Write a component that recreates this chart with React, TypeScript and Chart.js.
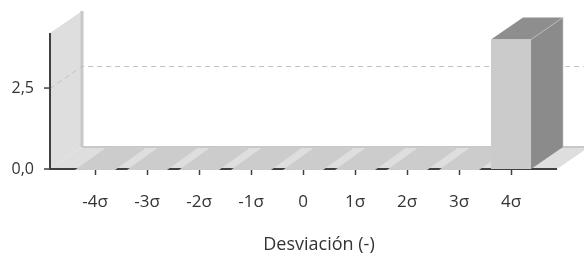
import React, { useEffect, useRef } from "react";
import { Chart, registerables } from "chart.js";

Chart.register(...registerables);

const categories = ["-4σ", "-3σ", "-2σ", "-1σ", "0", "1σ", "2σ", "3σ", "4σ"];
const values = [0, 0, 0, 0, 0, 0, 0, 0, 4];
const yTickValues = [0, 2.5];
const yMax = 4.2;
const xTitle = "Desviación (-)";

const FONT = "'Open Sans', 'Noto Sans', sans-serif";
const TEXT = "#333333";
const DX = 32;
const DY = -22;
const SIDE_PAD = 19;

const threeD = {
  id: "threeD",
  beforeDatasetsDraw(chart: any) {
    const { ctx, chartArea: ca } = chart;
    const xs = chart.scales.x;
    const ys = chart.scales.y;
    const base = ys.getPixelForValue(0);
    const top = ys.getPixelForValue(yMax);
    const L = ca.left - SIDE_PAD;
    const R = ca.right + SIDE_PAD + 1;
    ctx.save();
    // side wall
    ctx.fillStyle = "#dedede";
    ctx.beginPath();
    ctx.moveTo(L, top);
    ctx.lineTo(L + DX, top + DY);
    ctx.lineTo(L + DX, base + DY);
    ctx.lineTo(L, base);
    ctx.closePath();
    ctx.fill();
    // floor
    ctx.beginPath();
    ctx.moveTo(L, base);
    ctx.lineTo(R, base);
    ctx.lineTo(R + DX, base + DY);
    ctx.lineTo(L + DX, base + DY);
    ctx.closePath();
    ctx.fill();
    // wall edges
    ctx.strokeStyle = "#c8c8c8";
    ctx.lineWidth = 3;
    ctx.beginPath();
    ctx.moveTo(L + DX, top + DY);
    ctx.lineTo(L + DX, base + DY);
    ctx.stroke();
    ctx.lineWidth = 2;
    ctx.beginPath();
    ctx.moveTo(L + DX, base + DY);
    ctx.lineTo(R + DX + 40, base + DY);
    ctx.stroke();
    // dashed gridlines
    ctx.strokeStyle = "#c0c0c0";
    ctx.lineWidth = 1;
    ctx.setLineDash([5, 4]);
    ys.ticks.forEach((t: any) => {
      if (t.value === 0) return;
      const py = Math.round(ys.getPixelForValue(t.value)) + 0.5;
      ctx.beginPath();
      ctx.moveTo(L, py);
      ctx.lineTo(L + DX, py + DY);
      ctx.lineTo(chart.width, py + DY);
      ctx.stroke();
    });
    ctx.setLineDash([]);
    // axes
    ctx.strokeStyle = "#404040";
    ctx.lineWidth = 2;
    ctx.beginPath();
    ctx.moveTo(L, top);
    ctx.lineTo(L, base);
    ctx.lineTo(R, base);
    ctx.stroke();
    ctx.lineWidth = 1.5;
    ys.ticks.forEach((t: any) => {
      const py = ys.getPixelForValue(t.value);
      ctx.beginPath();
      ctx.moveTo(L - 6, py);
      ctx.lineTo(L, py);
      ctx.stroke();
    });
    xs.ticks.forEach((_t: any, i: number) => {
      const px = Math.round(xs.getPixelForValue(i)) + 0.5;
      ctx.beginPath();
      ctx.moveTo(px, base);
      ctx.lineTo(px, base + 6);
      ctx.stroke();
    });
    // bar top & side faces
    const meta = chart.getDatasetMeta(0);
    meta.data.forEach((bar: any, i: number) => {
      const x0 = bar.x - bar.width / 2;
      const x1 = bar.x + bar.width / 2;
      const yTop = bar.y;
      const yBase = bar.base;
      const tall = values[i] > 0;
      ctx.fillStyle = tall ? "#8e8e8e" : "#cccccc";
      ctx.beginPath();
      ctx.moveTo(x0, yTop + (tall ? 0 : 1));
      ctx.lineTo(x1, yTop + (tall ? 0 : 1));
      ctx.lineTo(x1 + DX, yTop + DY);
      ctx.lineTo(x0 + DX, yTop + DY);
      ctx.closePath();
      ctx.fill();
      if (tall) {
        ctx.fillStyle = "#8b8b8b";
        ctx.beginPath();
        ctx.moveTo(x1, yTop);
        ctx.lineTo(x1 + DX, yTop + DY);
        ctx.lineTo(x1 + DX, yBase + DY);
        ctx.lineTo(x1, yBase);
        ctx.closePath();
        ctx.fill();
        ctx.strokeStyle = "rgba(200,200,200,0.6)";
        ctx.lineWidth = 1;
        ctx.beginPath();
        ctx.moveTo(x1, yTop);
        ctx.lineTo(x1 + DX, yTop + DY);
        ctx.lineTo(x1 + DX, yBase + DY);
        ctx.stroke();
      }
    });
    ctx.restore();
  },
  afterDraw(chart: any) {
    const { ctx, chartArea: ca } = chart;
    ctx.save();
    ctx.fillStyle = TEXT;
    ctx.font = `18px ${FONT}`;
    ctx.textAlign = "center";
    ctx.textBaseline = "middle";
    ctx.fillText(xTitle, (ca.left + ca.right) / 2 + DX / 2, 245);
    ctx.restore();
  },
};

export default function App() {
  const ref = useRef<HTMLCanvasElement | null>(null);
  useEffect(() => {
    document.body.style.margin = "0";
    const chart = new Chart(ref.current!, {
      type: "bar",
      data: {
        labels: categories,
        datasets: [
          {
            data: values,
            backgroundColor: "#cbcbcb",
            borderWidth: 0,
            categoryPercentage: 1,
            barPercentage: 0.77,
          },
        ],
      },
      options: {
        animation: false,
        responsive: false,
        devicePixelRatio: 1,
        layout: { padding: { top: 33, right: 47, left: 0, bottom: 0 } },
        plugins: { legend: { display: false }, tooltip: { enabled: false } },
        scales: {
          x: {
            grid: { display: false, drawTicks: false },
            border: { display: false },
            ticks: { color: TEXT, font: { family: FONT, size: 17 }, padding: 23, maxRotation: 0 },
            afterFit: (s: any) => {
              s.height = 88;
              s.paddingLeft = 0;
              s.paddingRight = 0;
            },
          },
          y: {
            min: 0,
            max: yMax,
            grid: { display: false, drawTicks: false },
            border: { display: false },
            afterBuildTicks: (s: any) => {
              s.ticks = yTickValues.map((v) => ({ value: v }));
            },
            ticks: {
              color: TEXT,
              font: { family: FONT, size: 16 },
              padding: 35,
              callback: (v: any) => Number(v).toFixed(1).replace(".", ","),
            },
            afterFit: (s: any) => {
              s.width = 69;
              s.paddingTop = 0;
              s.paddingBottom = 0;
            },
          },
        },
      },
      plugins: [threeD],
    });
    return () => chart.destroy();
  }, []);
  return (
    <div style={{ position: "fixed", left: 0, top: 0, width: 584, height: 257, background: "#fff" }}>
      <canvas ref={ref} width={584} height={257} />
    </div>
  );
}
